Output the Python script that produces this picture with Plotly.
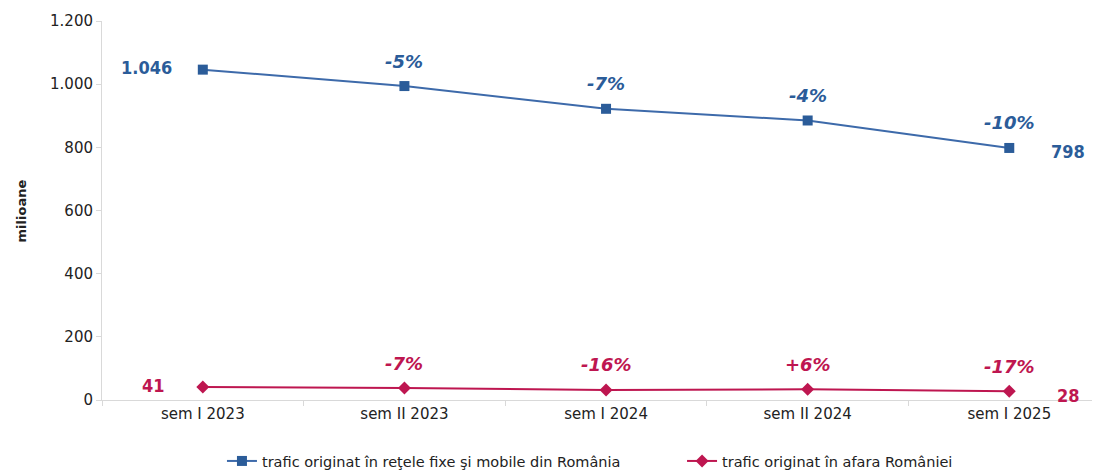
import plotly.graph_objects as go

categories = ["sem I 2023", "sem II 2023", "sem I 2024", "sem II 2024", "sem I 2025"]
romania = [1046, 994, 922, 885, 798]
romania_pct = ["", "-5%", "-7%", "-4%", "-10%"]
afara = [41, 38, 32, 34, 28]
afara_pct = ["", "-7%", "-16%", "+6%", "-17%"]

name_ro = "trafic originat în reţele fixe şi mobile din România"
name_af = "trafic originat în afara României"

blue = "#2B5C99"
red = "#BE1650"
font = "DejaVu Sans, Tahoma, sans-serif"
font_cond = "DejaVu Sans Condensed, Tahoma, sans-serif"

fig = go.Figure()
fig.add_trace(go.Scatter(x=categories, y=romania, name=name_ro, mode="lines+markers",
                         line=dict(color="#3D6AAA", width=2),
                         marker=dict(symbol="square", size=10, color=blue), legend="legend"))
fig.add_trace(go.Scatter(x=categories, y=afara, name=name_af, mode="lines+markers",
                         line=dict(color=red, width=2),
                         marker=dict(symbol="diamond", size=10, color=red), legend="legend2"))

# growth labels above points
for series, pct, col in [(romania, romania_pct, blue), (afara, afara_pct, red)]:
    for c, v, p in zip(categories, series, pct):
        if p:
            fig.add_annotation(x=c, y=v, text="<b><i>" + p + "</i></b>", showarrow=False,
                               yshift=25, font=dict(size=18, color=col, family=font))

# first / last values on the sides
def fmt(v):
    return f"{v:,}".replace(",", ".")

for series, col, left in [(romania, blue, -56), (afara, red, -49)]:
    fig.add_annotation(x=categories[0], y=series[0], text="<b>" + fmt(series[0]) + "</b>",
                       showarrow=False, xshift=left, yshift=2, font=dict(size=18, color=col, family=font_cond))
    fig.add_annotation(x=categories[-1], y=series[-1], text="<b>" + fmt(series[-1]) + "</b>",
                       showarrow=False, xshift=59, yshift=-4, font=dict(size=18, color=col, family=font_cond))

fig.add_annotation(xref="paper", yref="paper", x=-0.0802, y=0.5, xanchor="center", yanchor="middle",
                   text="<b>milioane</b>", textangle=-90, showarrow=False,
                   font=dict(size=13, color="#222222", family=font))

leg = dict(orientation="h", xanchor="left", y=-0.161, yanchor="middle",
           font=dict(size=14.5, color="#222222"))

# page body has an 8px margin, so the figure is a bit narrower and shifted
fig.update_layout(
    width=1092, height=472,
    margin=dict(l=94, r=0, t=13, b=80),
    plot_bgcolor="white", paper_bgcolor="white",
    font=dict(family=font, size=14, color="#222222"),
    separators=",.",
    showlegend=True,
    legend=dict(leg, x=0.1202),
    legend2=dict(leg, x=0.5812),
    xaxis=dict(range=[-0.5, 4.45], showgrid=False, showline=True, linecolor="#D9D9D9",
               ticks="outside", tickson="boundaries", tickcolor="#D9D9D9", ticklen=5,
               tickfont=dict(size=15), automargin=False),
    yaxis=dict(range=[0, 1200], dtick=200, showgrid=False, showline=True, linecolor="#D9D9D9",
               ticks="outside", tickcolor="#D9D9D9", ticklen=5, tickformat=",d",
               separatethousands=True, zeroline=False, tickfont=dict(size=15), automargin=False),
)

fig.write_html("out.html")
